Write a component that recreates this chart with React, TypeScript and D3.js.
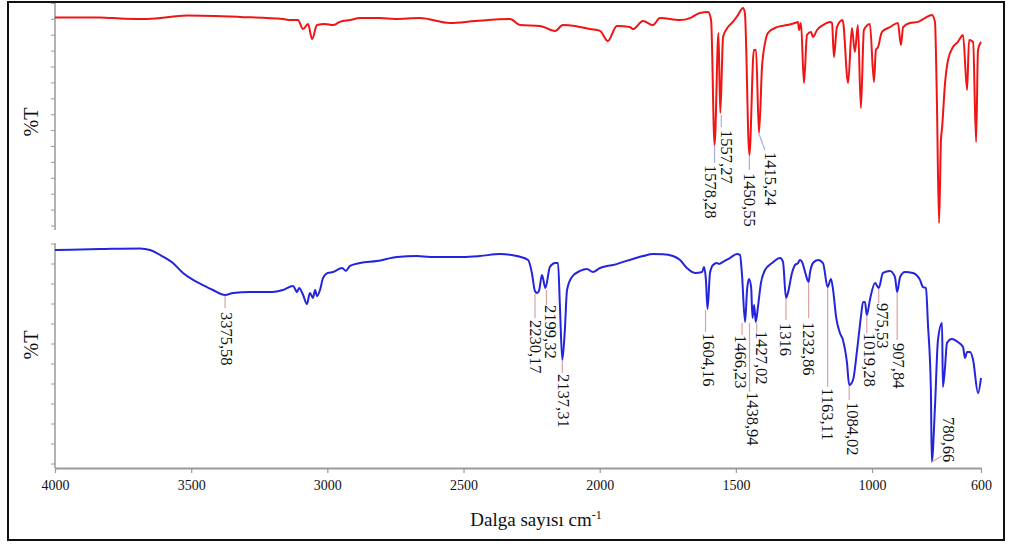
import React, { useEffect, useRef } from "react";
import * as d3 from "d3";

const xTickValues = [4000, 3500, 3000, 2500, 2000, 1500, 1000, 600];

// top spectrum (red)
const redWavenumber = [
  4000, 3835, 3743, 3662, 3515, 3321, 3163, 3137, 3108, 3089, 3071, 3056, 3038, 3009, 2979, 2954,
  2917, 2880, 2807, 2752, 2660, 2550, 2458, 2329, 2293, 2219, 2164, 2135, 2091, 2036, 1999, 1970,
  1937, 1889, 1878, 1841, 1804, 1779, 1705, 1668, 1632, 1602, 1591, 1578.28, 1564, 1557.27, 1547,
  1529, 1511, 1492, 1474, 1467, 1450.55, 1434, 1426, 1415.24, 1404, 1393, 1382, 1349, 1312, 1283,
  1272, 1268, 1261, 1250, 1239, 1224, 1217, 1202, 1180, 1154, 1147, 1140, 1129, 1108, 1088, 1074,
  1063, 1052, 1041, 1030, 1008, 993, 986, 978, 964, 934, 905, 894, 886, 861, 831, 806, 780, 769,
  762, 754, 747, 743, 732, 721, 703, 685, 666, 651, 644, 629, 618, 611, 600,
];
const redTransmittance = [
  93.6, 93.6, 93.0, 92.9, 94.4, 93.8, 92.9, 92.4, 92.4, 88.4, 90.7, 84.0, 90.2, 90.7, 90.2, 91.6,
  92.4, 93.3, 93.3, 92.9, 93.3, 91.1, 92.0, 92.9, 90.2, 89.8, 87.6, 90.2, 89.8, 88.4, 87.6, 83.1,
  89.8, 89.3, 88.4, 92.0, 90.2, 93.3, 92.4, 93.3, 95.6, 96.0, 92.4, 36.9, 86.7, 51.1, 84.9,
  89.3, 91.6, 94.7, 97.8, 95.6, 32.4, 79.1, 79.1, 42.2, 71.6, 82.2, 86.7, 89.3, 90.2, 91.1,
  91.6, 88.0, 91.1, 64.4, 85.8, 87.1, 84.9, 88.0, 90.2, 91.6, 91.1, 76.0, 89.3, 92.4, 64.4, 88.9,
  78.2, 90.2, 53.3, 88.0, 90.7, 64.9, 79.1, 80.4, 87.1, 89.3, 91.1, 81.3, 89.3, 91.1, 91.6, 93.3,
  94.7, 91.6, 56.9, 2.2, 39.1, 44.4, 64.4, 74.7, 80.4, 82.7, 85.8, 61.3, 83.6, 82.7, 38.2, 79.1,
  82.7,
];

// bottom spectrum (blue)
const blueWavenumber = [
  4000, 3835, 3688, 3651, 3603, 3567, 3530, 3493, 3457, 3420, 3375.58, 3346, 3284, 3203, 3163,
  3126, 3111, 3104, 3089, 3075, 3064, 3053, 3045, 3038, 3027, 3016, 2998, 2979, 2946, 2932, 2917,
  2880, 2818, 2744, 2671, 2623, 2502, 2440, 2366, 2329, 2293, 2263, 2249, 2238, 2230.17, 2223,
  2212, 2199.32, 2183, 2164, 2153, 2146, 2137.31, 2128, 2120, 2102, 2072, 2047, 2025, 1999, 1973,
  1951, 1914, 1878, 1841, 1804, 1768, 1731, 1705, 1680, 1650, 1624, 1617, 1610, 1604.16, 1595,
  1584, 1569, 1562, 1547, 1522, 1496, 1485, 1478, 1466.23, 1459, 1452, 1444, 1438.94, 1433,
  1427.02, 1419, 1408, 1393, 1367, 1338, 1327, 1316, 1309, 1294, 1283, 1272, 1265, 1257, 1246,
  1232.86, 1228, 1217, 1198, 1180, 1163.11, 1151, 1143, 1132, 1118, 1107, 1092, 1084.02, 1070,
  1055, 1041, 1033, 1026, 1019.28, 1008, 989, 975.53, 960, 934, 916, 907.84, 897, 879, 850, 824,
  813, 802, 795, 784, 780.66, 769, 758, 743, 740, 732, 725, 707, 685, 666, 659, 651, 640, 629, 611,
  600,
];
const blueTransmittance = [
  96.9, 97.3, 97.6, 96.9, 93.9, 91.1, 86.7, 83.6, 81.3, 79.1, 76.9, 77.8, 78.2, 78.2, 79.1,
  80.9, 78.2, 80.0, 76.9, 72.9, 77.8, 75.6, 79.1, 76.4, 79.1, 84.4, 86.7, 87.1, 88.9, 87.6, 89.8,
  91.1, 92.0, 93.8, 94.2, 93.8, 93.8, 94.2, 95.1, 94.8, 93.9, 92.4, 86.7, 78.7, 77.8, 78.7,
  85.8, 80.0, 89.3, 91.1, 91.1, 71.6, 48.0, 61.3, 79.1, 84.9, 87.6, 88.4, 87.1, 88.9, 89.8,
  90.2, 91.6, 92.9, 94.2, 95.1, 95.0, 94.2, 92.4, 88.9, 86.7, 87.1, 89.3, 83.6, 70.7, 86.7,
  90.2, 91.1, 90.7, 91.6, 93.3, 95.1, 94.7, 86.7, 64.9, 79.1, 84.0, 80.4, 66.7, 72.4,
  64.9, 71.6, 82.2, 88.0, 91.1, 93.3, 91.6, 75.6, 77.8, 86.7, 90.2, 91.1, 92.4, 91.6, 87.1,
  82.7, 86.7, 91.1, 92.4, 91.1, 80.4, 84.0, 79.1, 67.1, 60.0, 56.9, 46.7, 36.9, 39.1,
  52.4, 67.1, 73.8, 73.8, 68.0, 74.7, 82.2, 80.0, 86.7, 87.6, 84.9, 78.2, 84.9, 87.1, 86.7, 83.6,
  80.4, 80.0, 64.4, 34.7, 2.7, 27.1, 56.9, 64.4, 36.0, 44.9, 55.6, 57.3, 56.0, 53.8, 48.9, 51.6,
  51.6, 48.0, 33.3, 40.0,
];

const redPeaks = [1578.28, 1557.27, 1450.55, 1415.24];
const redPeakLabels = ["1578,28", "1557,27", "1450,55", "1415,24"];

const bluePeaks = [
  3375.58, 2230.17, 2199.32, 2137.31, 1604.16, 1466.23, 1438.94, 1427.02, 1316, 1232.86, 1163.11,
  1084.02, 1019.28, 975.53, 907.84, 780.66,
];
const bluePeakLabels = [
  "3375,58", "2230,17", "2199,32", "2137,31", "1604,16", "1466,23", "1438,94", "1427,02", "1316",
  "1232,86", "1163,11", "1084,02", "1019,28", "975,53", "907,84", "780,66",
];

// label placement in px from the peak: leader x0,y0,x1,y1 then text dx,dy
const redLabelOffsets = [
  [0, 1, 0, 18, -4, 20],
  [1, 2, 1, 14, 6, 17],
  [0, 1, 0, 15, 0, 18],
  [0, 1, 6, 17, 12, 19],
];
const blueLabelOffsets = [
  [0, 1, 0, 13, 1, 17],
  [-2, 1, -2, 25, -2, 27],
  [1, 2, 1, 17, 5, 17],
  [0, 1, 0, 13, 1, 14],
  [-2, 1, -2, 23, 1, 24],
  [-3, 1, -3, 13, -5, 13],
  [-3, 5, -3, 74, 0, 74],
  [1, 1, 1, 10, 6, 9],
  [0, 1, 0, 22, 0, 25],
  [0, 1, 0, 36, 0, 40],
  [0, 1, 0, 100, 0, 101],
  [0, 1, 0, 15, 3, 17],
  [0, 1, 0, 18, 3, 18],
  [0, 1, 0, 15, 4, 15],
  [0, 1, 0, 48, 1, 51],
  [0, 0, 10, -6, 17, -45],
];

const FONT = "Liberation Serif, DejaVu Serif, serif";

export default function App() {
  const svgRef = useRef<SVGSVGElement>(null);

  useEffect(() => {
    if (!svgRef.current) return;
    const width = 1009;
    const height = 544;
    const left = 55;
    const right = 981;

    const svg = d3.select(svgRef.current);
    svg.selectAll("*").remove();
    svg
      .attr("width", width)
      .attr("height", height)
      .attr("viewBox", `0 0 ${width} ${height}`)
      .style("font-family", FONT);

    svg
      .append("rect")
      .attr("x", 8)
      .attr("y", 2)
      .attr("width", 996)
      .attr("height", 538)
      .attr("fill", "white")
      .attr("stroke", "#111")
      .attr("stroke-width", 2);

    const x = d3.scaleLinear().domain([4000, 600]).range([left, right]);

    const panels = [
      {
        wn: redWavenumber,
        t: redTransmittance,
        color: "#f01414",
        leader: "#a9addf",
        peaks: redPeaks,
        labels: redPeakLabels,
        offsets: redLabelOffsets,
        y: d3.scaleLinear().domain([0, 100]).range([228, 3]),
        axisTop: 3,
        axisBottom: 230,
        titleY: 122,
        tickCount: 15,
        tickStep: 15.9,
      },
      {
        wn: blueWavenumber,
        t: blueTransmittance,
        color: "#2424dc",
        leader: "#d9a3a3",
        peaks: bluePeaks,
        labels: bluePeakLabels,
        offsets: blueLabelOffsets,
        y: d3.scaleLinear().domain([0, 100]).range([468, 243]),
        axisTop: 243,
        axisBottom: 468,
        titleY: 345,
        tickCount: 12,
        tickStep: 20,
      },
    ];

    panels.forEach((p) => {
      // left axis with unlabeled ticks
      const g = svg.append("g").attr("transform", `translate(${left},0)`);
      g.append("line")
        .attr("y1", p.axisTop)
        .attr("y2", p.axisBottom)
        .attr("stroke", "#9a9a9a")
        .attr("stroke-width", 1.5);
      const firstTick = p.axisBottom - 4;
      g.selectAll("line.tick")
        .data(d3.range(p.tickCount))
        .join("line")
        .attr("class", "tick")
        .attr("x1", -4)
        .attr("x2", 0)
        .attr("y1", (k) => firstTick - k * p.tickStep)
        .attr("y2", (k) => firstTick - k * p.tickStep)
        .attr("stroke", "#9a9a9a")
        .attr("stroke-width", 1);

      svg
        .append("text")
        .attr("transform", `translate(31,${p.titleY}) rotate(-90)`)
        .attr("text-anchor", "middle")
        .attr("dominant-baseline", "central")
        .style("font-family", FONT)
        .attr("font-size", 20)
        .attr("fill", "#111")
        .text("%T");

      const pts = p.wn.map((w, i) => [w, p.t[i]] as [number, number]);
      const line = d3
        .line<[number, number]>()
        .x((d) => x(d[0]))
        .y((d) => p.y(d[1]))
        .curve(d3.curveMonotoneX);

      svg
        .append("path")
        .datum(pts)
        .attr("fill", "none")
        .attr("stroke", p.color)
        .attr("stroke-width", 2)
        .attr("stroke-linejoin", "round")
        .attr("d", line);

      p.peaks.forEach((pk, i) => {
        const px = x(pk);
        const py = p.y(p.t[p.wn.indexOf(pk)]);
        const [lx0, ly0, lx1, ly1, tdx, tdy] = p.offsets[i];
        svg
          .append("line")
          .attr("x1", px + lx0)
          .attr("y1", py + ly0)
          .attr("x2", px + lx1)
          .attr("y2", py + ly1)
          .attr("stroke", p.leader)
          .attr("stroke-width", 1.2);
        svg
          .append("text")
          .attr("transform", `translate(${px + tdx},${py + tdy}) rotate(90)`)
          .attr("text-anchor", "start")
          .attr("dominant-baseline", "central")
          .style("font-family", FONT)
          .attr("font-size", 16.5)
          .attr("fill", "#111")
          .text(p.labels[i]);
      });
    });

    // bottom x axis
    const xAxis = svg
      .append("g")
      .attr("transform", "translate(0,468)")
      .call(
        d3
          .axisBottom(x)
          .tickValues(xTickValues)
          .tickFormat(d3.format("d"))
          .tickSize(5)
          .tickSizeOuter(0)
          .tickPadding(7)
      );
    xAxis.select(".domain").attr("stroke", "#9a9a9a").attr("stroke-width", 2);
    xAxis.selectAll(".tick line").attr("stroke", "#9a9a9a").attr("stroke-width", 1.2);
    xAxis
      .selectAll(".tick text")
      .style("font-family", FONT)
      .attr("font-size", 14)
      .attr("fill", "#111");

    const title = svg
      .append("text")
      .attr("x", 536)
      .attr("y", 526)
      .attr("text-anchor", "middle")
      .style("font-family", FONT)
      .attr("font-size", 19)
      .attr("fill", "#111");
    title.append("tspan").text("Dalga sayısı cm");
    title.append("tspan").attr("dy", -7).attr("font-size", 12).text("-1");
  }, []);

  return <svg ref={svgRef} style={{ position: "absolute", left: 0, top: 0, display: "block" }} />;
}
